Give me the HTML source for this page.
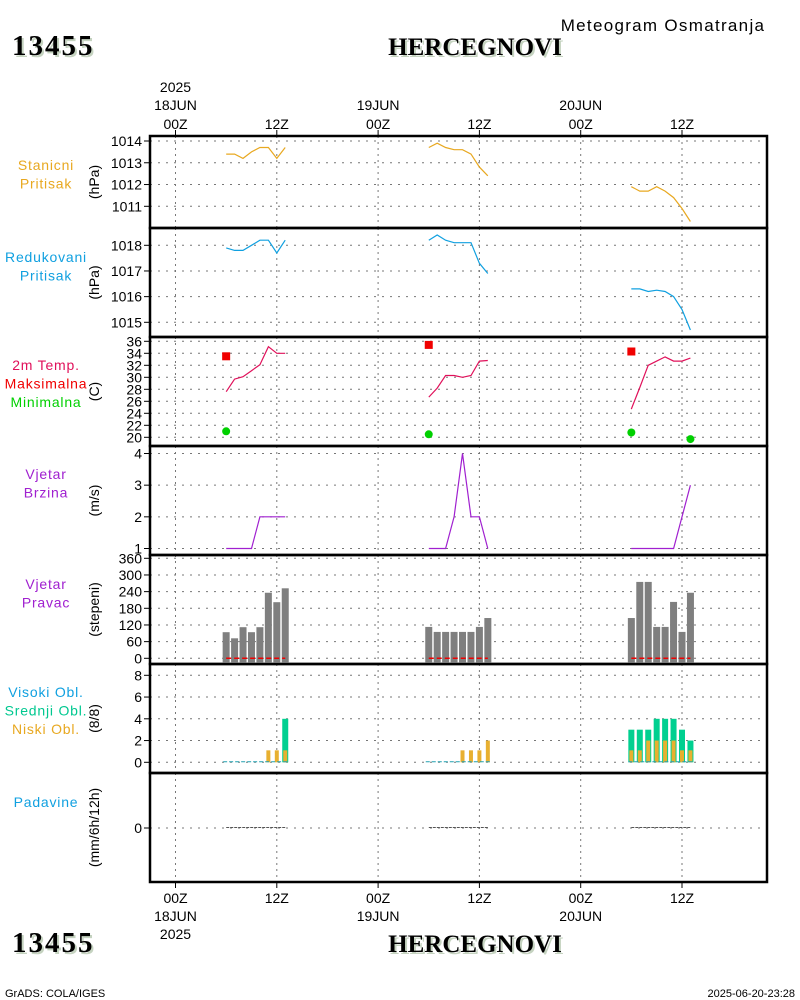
<!DOCTYPE html>
<html><head><meta charset="utf-8"><style>
html,body{margin:0;padding:0;background:#fff;}
svg{display:block;font-family:"Liberation Sans",sans-serif;}
.t{font-size:14px;}
.big{font-family:"Liberation Serif",serif;font-weight:bold;}
</style></head><body>
<svg id="chart" width="800" height="1000" viewBox="0 0 800 1000">
<g>
<text x="663" y="31" text-anchor="middle" class="t" style="font-size:17px;letter-spacing:1.3px" fill="#000">Meteogram Osmatranja</text>
<text x="14" y="57" class="big" style="font-size:29px;letter-spacing:2px" fill="#c5d3c0">13455</text>
<text x="12" y="55" class="big" style="font-size:29px;letter-spacing:2px" fill="#000">13455</text>
<text x="477" y="57" class="big" style="font-size:25px" text-anchor="middle" fill="#c5d3c0">HERCEGNOVI</text>
<text x="475" y="55" class="big" style="font-size:25px" text-anchor="middle" fill="#000">HERCEGNOVI</text>
<text x="14" y="954" class="big" style="font-size:29px;letter-spacing:2px" fill="#c5d3c0">13455</text>
<text x="12" y="952" class="big" style="font-size:29px;letter-spacing:2px" fill="#000">13455</text>
<text x="477" y="954" class="big" style="font-size:25px" text-anchor="middle" fill="#c5d3c0">HERCEGNOVI</text>
<text x="475" y="952" class="big" style="font-size:25px" text-anchor="middle" fill="#000">HERCEGNOVI</text>
<text x="5" y="997" class="t" style="font-size:11px" fill="#000">GrADS: COLA/IGES</text>
<text x="795" y="997" class="t" style="font-size:11px" fill="#000" text-anchor="end">2025-06-20-23:28</text>
</g>
<g id="plot"></g>
</svg>
<script>
// ---- data ----
var days = [0, 24, 48];
var obsHours = [6,7,8,9,10,11,12,13];
var stationP = [[1013.4,1013.4,1013.2,1013.5,1013.7,1013.7,1013.2,1013.7],
                [1013.7,1013.9,1013.7,1013.6,1013.6,1013.4,1012.8,1012.4],
                [1011.9,1011.7,1011.7,1011.9,1011.7,1011.4,1010.9,1010.3]];
var reducedP = [[1017.9,1017.8,1017.8,1018.0,1018.2,1018.2,1017.7,1018.2],
                [1018.2,1018.4,1018.2,1018.1,1018.1,1018.1,1017.3,1016.9],
                [1016.3,1016.3,1016.2,1016.25,1016.2,1016.0,1015.5,1014.7]];
var temp2m = [[27.6,29.7,30.1,31.1,32.1,35.1,34.0,34.0],
              [26.7,28.2,30.3,30.3,30.0,30.3,32.7,32.8],
              [24.7,28.3,32.0,32.7,33.4,32.7,32.7,33.2]];
var tmaxHours = [6, 30, 54];
var tmaxVals = [33.5, 35.4, 34.3];
var tminHours = [6, 30, 54, 61];
var tminVals = [21.0, 20.5, 20.8, 19.7];
var windSpd = [[1,1,1,1,2,2,2,2],[1,1,1,2,4,2,2,1],[1,1,1,1,1,1,2,3]];
var windDir = [[94,72,112,94,112,236,202,252],
               [113,95,95,95,95,95,113,145],
               [145,275,275,113,113,203,95,236]];
var cloudMid = [[0,0,0,0,0,0,0,4],[0,0,0,0,0,0,0,0],[3,3,3,4,4,4,3,2]];
var cloudLow = [[0,0,0,0,0,1.1,1.1,1.1],[0,0,0,0,1.1,1.1,1.1,2],[1.1,1.1,2,2,2,2,1.1,1.1]];
var precip = [[0,0,0,0,0,0,0,0],[0,0,0,0,0,0,0,0],[0,0,0,0,0,0,0,0]];
var xTickHours = [0,12,24,36,48,60];
var xTickLabels = ["00Z","12Z","00Z","12Z","00Z","12Z"];
var dateLabels = ["18JUN","19JUN","20JUN"];
var pStTicks = [1014,1013,1012,1011];
var pRedTicks = [1018,1017,1016,1015];
var tTicks = [36,34,32,30,28,26,24,22,20];
var wsTicks = [4,3,2,1];
var wdTicks = [360,300,240,180,120,60,0];
var cTicks = [8,6,4,2,0];
var prTicks = [0];

// ---- layout ----
var NS="http://www.w3.org/2000/svg";
var plot=document.getElementById('plot');
var L=150,R=767;
function X(h){return 175.5+h*101.3/12;}
function mk(tag,attrs,parent){var e=document.createElementNS(NS,tag);for(var k in attrs)e.setAttribute(k,attrs[k]);(parent||plot).appendChild(e);return e;}
function txt(x,y,s,attrs,parent){var e=mk('text',Object.assign({x:x,y:y,'class':'t',fill:'#000'},attrs||{}),parent);e.textContent=s;return e;}
function lin(v0,v1,y0,y1){return function(v){return y0+(v-v0)*(y1-y0)/(v1-v0);};}

var panels=[
 {name:'station-pressure',top:136,bot:228,Y:lin(1014,1011,141,206.3),ticks:pStTicks,unit:'(hPa)',labels:[['Stanicni','#e8a820'],['Pritisak','#e8a820']],ly:170},
 {name:'reduced-pressure',top:228,bot:337,Y:lin(1018,1015,245.3,322.3),ticks:pRedTicks,unit:'(hPa)',labels:[['Redukovani','#10a0e0'],['Pritisak','#10a0e0']],ly:262},
 {name:'temperature',top:337,bot:446,Y:lin(36,20,341.3,437.3),ticks:tTicks,unit:'(C)',labels:[['2m Temp.','#e0105a'],['Maksimalna','#f00000'],['Minimalna','#00d000']],ly:370},
 {name:'wind-speed',top:446,bot:555,Y:lin(4,1,453.5,548.5),ticks:wsTicks,unit:'(m/s)',labels:[['Vjetar','#a020d0'],['Brzina','#a020d0']],ly:479},
 {name:'wind-direction',top:555,bot:664,Y:lin(360,0,558.3,658.3),ticks:wdTicks,unit:'(stepeni)',labels:[['Vjetar','#a020d0'],['Pravac','#a020d0']],ly:589},
 {name:'cloud-cover',top:664,bot:773,Y:lin(8,0,675.3,762.3),ticks:cTicks,unit:'(8/8)',labels:[['Visoki Obl.','#10a0e0'],['Srednji Obl.','#00c890'],['Niski Obl.','#e8a820']],ly:697},
 {name:'precipitation',top:773,bot:882,Y:lin(0,1,828,800),ticks:prTicks,unit:'(mm/6h/12h)',labels:[['Padavine','#10a0e0']],ly:807}
];

panels.forEach(function(p){
  var g=mk('g',{});
  
  
  xTickHours.forEach(function(h){
    var l=mk('line',{x1:X(h),x2:X(h),y1:p.top,y2:p.bot,stroke:'#777','stroke-width':1,'stroke-dasharray':'2,4'},g);
    
    
  });
  p.ticks.forEach(function(v){
    var y=p.Y(v);
    var l=mk('line',{x1:L,x2:R,y1:y,y2:y,stroke:'#777','stroke-width':1,'stroke-dasharray':'2,6'},g);
    
    
    mk('line',{x1:L-6,x2:L,y1:y,y2:y,stroke:'#000'},g);
    var t=txt(L-8,y+5,String(v),{'text-anchor':'end'},g);
    
    
  });
  var mid=(p.top+p.bot)/2;
  var u=txt(0,0,p.unit,{'text-anchor':'middle',transform:'translate(99,'+mid+') rotate(-90)'},g);
  
  
  p.labels.forEach(function(lb,i){
    var t=txt(46,p.ly+i*18.5,lb[0],{'text-anchor':'middle',fill:lb[1],style:'letter-spacing:0.8px'},g);
    
    
  });
  p.g=g;
});

function line(p,vals,color,nm){
  days.forEach(function(d,di){
    var pts=obsHours.map(function(h,i){return X(d+h).toFixed(1)+','+p.Y(vals[di][i]).toFixed(1);}).join(' ');
    var e=mk('polyline',{points:pts,fill:'none',stroke:color,'stroke-width':1.2},p.g);
    
    
  });
}
line(panels[0],stationP,'#e8a820','station-pressure');
line(panels[1],reducedP,'#10a0e0','reduced-pressure');
line(panels[2],temp2m,'#e0105a','temperature');
line(panels[3],windSpd,'#a020d0','wind-speed');
tmaxHours.forEach(function(h,i){
  var e=mk('rect',{x:X(h)-4,y:panels[2].Y(tmaxVals[i])-4,width:8,height:8,fill:'#f00000'},panels[2].g);
  
  
});
tminHours.forEach(function(h,i){
  var e=mk('circle',{cx:X(h),cy:panels[2].Y(tminVals[i]),r:4,fill:'#00d000'},panels[2].g);
  
  
});
var pw=panels[4];
days.forEach(function(d,di){
  obsHours.forEach(function(h,i){
    var y=pw.Y(windDir[di][i]);
    var e=mk('rect',{x:X(d+h)-3.5,y:y,width:7,height:pw.Y(0)+4-y,fill:'#7f7f7f'},pw.g);
    
    
  });
  var z=mk('line',{x1:X(d+obsHours[0]),x2:X(d+obsHours[obsHours.length-1]),y1:pw.Y(0),y2:pw.Y(0),stroke:'#f00000','stroke-width':1.5,'stroke-dasharray':'5,3'},pw.g);
  
  
});
var pc=panels[5];
days.forEach(function(d,di){
  obsHours.forEach(function(h,i){
    var mtot=cloudMid[di][i];
    if(mtot>0){var y=pc.Y(mtot);var e=mk('rect',{x:X(d+h)-3,y:y,width:6,height:pc.Y(0)-y,fill:'#00d090'},pc.g);
      
      }
    var lo=cloudLow[di][i];
    if(lo>0){var y2=pc.Y(lo);var e2=mk('rect',{x:X(d+h)-2,y:y2,width:4,height:pc.Y(0)-y2,fill:'#e8b030'},pc.g);
      
      }
  });
  var z=mk('line',{x1:X(d+6)-3,x2:X(d+13)+3,y1:pc.Y(0)-0.5,y2:pc.Y(0)-0.5,stroke:'#20a0b0','stroke-width':1,'stroke-dasharray':'4,2'},pc.g);
  
  
});
var pp=panels[6];
days.forEach(function(d,di){
  var pts=obsHours.map(function(h,i){return X(d+h).toFixed(1)+','+(pp.Y(precip[di][i])-0.5).toFixed(1);}).join(' ');
  var e=mk('polyline',{points:pts,fill:'none',stroke:'#555','stroke-width':1,'stroke-dasharray':'3,1'},pp.g);
  
  
});
panels.forEach(function(p){
  var f=mk('rect',{x:L,y:p.top,width:R-L,height:p.bot-p.top,fill:'none',stroke:'#000','stroke-width':2.5});
  
  
});
xTickHours.forEach(function(h,i){
  var x=X(h);
  mk('line',{x1:x,x2:x,y1:130,y2:136,stroke:'#000'});
  mk('line',{x1:x,x2:x,y1:882,y2:888,stroke:'#000'});
  var t=txt(x,129,xTickLabels[i],{'text-anchor':'middle'});
  
  
  var b=txt(x,903,xTickLabels[i],{'text-anchor':'middle'});
  
  
});
dateLabels.forEach(function(s,i){
  var x=X(i*24);
  var t=txt(x,110,s,{'text-anchor':'middle'});
  
  
  var b=txt(x,921,s,{'text-anchor':'middle'});
  
  
});
var y1=txt(X(0),92,'2025',{'text-anchor':'middle'});


var y2=txt(X(0),939,'2025',{'text-anchor':'middle'});


</script>
</body></html>
